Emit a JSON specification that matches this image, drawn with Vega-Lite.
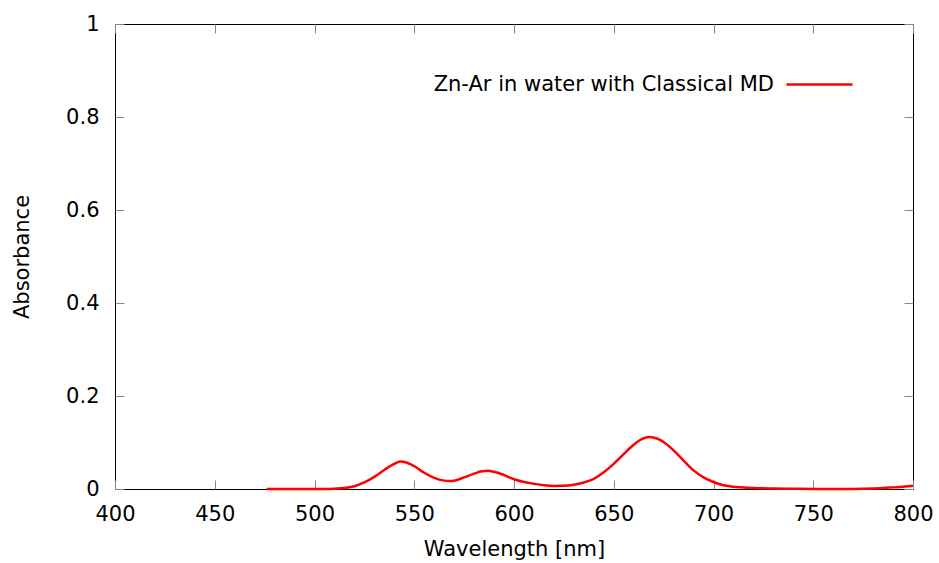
{
  "$schema": "https://vega.github.io/schema/vega-lite/v6.json",
  "width": 798,
  "height": 465,
  "autosize": "none",
  "padding": {"left": 115, "top": 24, "right": 26, "bottom": 74},
  "background": "white",
  "config": {
    "view": {"stroke": "black", "strokeWidth": 1},
    "font": "DejaVu Sans",
    "axis": {"domain": false, "grid": false, "tickColor": "#888888", "tickWidth": 1, "tickSize": -9, "labelFlush": false, "labelFont": "DejaVu Sans", "labelFontSize": 21, "labelColor": "black", "titleFont": "DejaVu Sans", "titleFontSize": 21, "titleFontWeight": "normal", "titleColor": "black"}
  },
  "data": {"values": [
    {"wl": 476, "a": 0.0, "s": "Zn-Ar in water with Classical MD"},
    {"wl": 480, "a": 0.0, "s": "Zn-Ar in water with Classical MD"},
    {"wl": 490, "a": 0.0, "s": "Zn-Ar in water with Classical MD"},
    {"wl": 500, "a": 0.0, "s": "Zn-Ar in water with Classical MD"},
    {"wl": 505, "a": 0.0002, "s": "Zn-Ar in water with Classical MD"},
    {"wl": 510, "a": 0.0008, "s": "Zn-Ar in water with Classical MD"},
    {"wl": 515, "a": 0.002, "s": "Zn-Ar in water with Classical MD"},
    {"wl": 520, "a": 0.006, "s": "Zn-Ar in water with Classical MD"},
    {"wl": 525, "a": 0.014, "s": "Zn-Ar in water with Classical MD"},
    {"wl": 530, "a": 0.026, "s": "Zn-Ar in water with Classical MD"},
    {"wl": 535, "a": 0.041, "s": "Zn-Ar in water with Classical MD"},
    {"wl": 540, "a": 0.054, "s": "Zn-Ar in water with Classical MD"},
    {"wl": 543, "a": 0.059, "s": "Zn-Ar in water with Classical MD"},
    {"wl": 546, "a": 0.057, "s": "Zn-Ar in water with Classical MD"},
    {"wl": 550, "a": 0.049, "s": "Zn-Ar in water with Classical MD"},
    {"wl": 555, "a": 0.035, "s": "Zn-Ar in water with Classical MD"},
    {"wl": 560, "a": 0.024, "s": "Zn-Ar in water with Classical MD"},
    {"wl": 565, "a": 0.018, "s": "Zn-Ar in water with Classical MD"},
    {"wl": 568, "a": 0.017, "s": "Zn-Ar in water with Classical MD"},
    {"wl": 571, "a": 0.019, "s": "Zn-Ar in water with Classical MD"},
    {"wl": 575, "a": 0.025, "s": "Zn-Ar in water with Classical MD"},
    {"wl": 580, "a": 0.033, "s": "Zn-Ar in water with Classical MD"},
    {"wl": 584, "a": 0.038, "s": "Zn-Ar in water with Classical MD"},
    {"wl": 587, "a": 0.039, "s": "Zn-Ar in water with Classical MD"},
    {"wl": 590, "a": 0.037, "s": "Zn-Ar in water with Classical MD"},
    {"wl": 595, "a": 0.030, "s": "Zn-Ar in water with Classical MD"},
    {"wl": 600, "a": 0.021, "s": "Zn-Ar in water with Classical MD"},
    {"wl": 605, "a": 0.015, "s": "Zn-Ar in water with Classical MD"},
    {"wl": 610, "a": 0.011, "s": "Zn-Ar in water with Classical MD"},
    {"wl": 615, "a": 0.008, "s": "Zn-Ar in water with Classical MD"},
    {"wl": 620, "a": 0.0065, "s": "Zn-Ar in water with Classical MD"},
    {"wl": 625, "a": 0.0068, "s": "Zn-Ar in water with Classical MD"},
    {"wl": 630, "a": 0.009, "s": "Zn-Ar in water with Classical MD"},
    {"wl": 635, "a": 0.014, "s": "Zn-Ar in water with Classical MD"},
    {"wl": 640, "a": 0.022, "s": "Zn-Ar in water with Classical MD"},
    {"wl": 645, "a": 0.036, "s": "Zn-Ar in water with Classical MD"},
    {"wl": 650, "a": 0.054, "s": "Zn-Ar in water with Classical MD"},
    {"wl": 655, "a": 0.075, "s": "Zn-Ar in water with Classical MD"},
    {"wl": 660, "a": 0.095, "s": "Zn-Ar in water with Classical MD"},
    {"wl": 664, "a": 0.107, "s": "Zn-Ar in water with Classical MD"},
    {"wl": 668, "a": 0.112, "s": "Zn-Ar in water with Classical MD"},
    {"wl": 672, "a": 0.108, "s": "Zn-Ar in water with Classical MD"},
    {"wl": 676, "a": 0.098, "s": "Zn-Ar in water with Classical MD"},
    {"wl": 680, "a": 0.083, "s": "Zn-Ar in water with Classical MD"},
    {"wl": 685, "a": 0.061, "s": "Zn-Ar in water with Classical MD"},
    {"wl": 690, "a": 0.040, "s": "Zn-Ar in water with Classical MD"},
    {"wl": 695, "a": 0.025, "s": "Zn-Ar in water with Classical MD"},
    {"wl": 700, "a": 0.015, "s": "Zn-Ar in water with Classical MD"},
    {"wl": 705, "a": 0.008, "s": "Zn-Ar in water with Classical MD"},
    {"wl": 710, "a": 0.005, "s": "Zn-Ar in water with Classical MD"},
    {"wl": 715, "a": 0.003, "s": "Zn-Ar in water with Classical MD"},
    {"wl": 720, "a": 0.002, "s": "Zn-Ar in water with Classical MD"},
    {"wl": 730, "a": 0.001, "s": "Zn-Ar in water with Classical MD"},
    {"wl": 740, "a": 0.0005, "s": "Zn-Ar in water with Classical MD"},
    {"wl": 750, "a": 0.0001, "s": "Zn-Ar in water with Classical MD"},
    {"wl": 760, "a": 0.0, "s": "Zn-Ar in water with Classical MD"},
    {"wl": 770, "a": 0.0002, "s": "Zn-Ar in water with Classical MD"},
    {"wl": 775, "a": 0.0006, "s": "Zn-Ar in water with Classical MD"},
    {"wl": 780, "a": 0.0012, "s": "Zn-Ar in water with Classical MD"},
    {"wl": 785, "a": 0.002, "s": "Zn-Ar in water with Classical MD"},
    {"wl": 790, "a": 0.0035, "s": "Zn-Ar in water with Classical MD"},
    {"wl": 795, "a": 0.005, "s": "Zn-Ar in water with Classical MD"},
    {"wl": 800, "a": 0.007, "s": "Zn-Ar in water with Classical MD"}
  ]},
  "layer": [
    {
      "mark": {"type": "line", "strokeWidth": 2.5, "interpolate": "monotone"},
      "encoding": {
        "x": {"field": "wl", "type": "quantitative", "scale": {"domain": [400, 800], "nice": false, "zero": false},
              "axis": {"orient": "bottom", "title": "Wavelength [nm]", "values": [400, 450, 500, 550, 600, 650, 700, 750, 800], "labelPadding": 23, "titlePadding": 14}},
        "y": {"field": "a", "type": "quantitative", "scale": {"domain": [0, 1], "nice": false},
              "axis": {"orient": "left", "title": "Absorbance", "values": [0, 0.2, 0.4, 0.6, 0.8, 1], "format": "~g", "labelPadding": 25, "titlePadding": 33}},
        "color": {"field": "s", "type": "nominal", "scale": {"range": ["#ff0000"]},
                  "legend": {"title": null, "orient": "none", "legendX": 670, "legendY": 26, "symbolType": "stroke", "symbolSize": 4356, "symbolStrokeWidth": 2.5, "labelFontSize": 21, "labelFont": "DejaVu Sans", "labelColor": "black", "labelAlign": "right", "labelOffset": -80, "labelLimit": 600}}
      }
    },
    {
      "mark": {"type": "line", "opacity": 0},
      "encoding": {
        "x": {"field": "wl", "type": "quantitative", "axis": {"orient": "top", "title": null, "labels": false, "values": [400, 450, 500, 550, 600, 650, 700, 750, 800]}},
        "y": {"field": "a", "type": "quantitative", "axis": {"orient": "right", "title": null, "labels": false, "values": [0, 0.2, 0.4, 0.6, 0.8, 1]}}
      }
    }
  ],
  "resolve": {"axis": {"x": "independent", "y": "independent"}}
}
